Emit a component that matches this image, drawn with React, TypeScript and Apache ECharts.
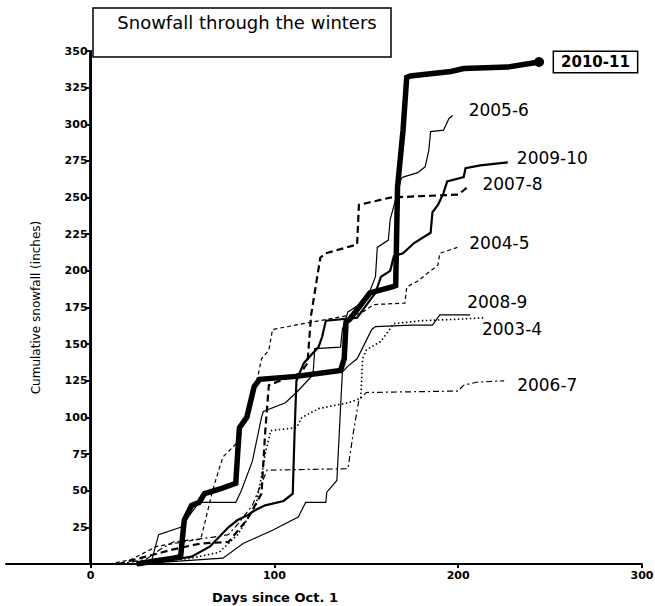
import React, { useEffect, useRef } from "react";
import * as echarts from "echarts";

const xTickValues = [0, 100, 200, 300];
const yTickStep = 25;
const xMin = -46;
const xMax = 300;
const yMin = 0;
const yMax = 350;
const yAxisAtX = 0;

const s2010_11: number[][] = [
  [25, 0], [35, 2], [45, 4], [49, 5], [50, 18], [51, 30], [55, 40], [59, 42], [62, 48], [70, 51],
  [79, 55], [80, 75], [81, 93], [85, 100], [89, 121], [92, 126], [112, 128], [136, 132], [138, 140],
  [139, 165], [141, 167], [152, 185], [164, 189], [166, 190], [167, 257], [170, 296], [172, 332],
  [174, 333], [196, 336], [203, 338], [227, 339], [244, 342.5],
];
const s2005_6: number[][] = [
  [20, 0], [33, 1], [37, 20], [49, 25], [59, 42], [79, 42], [82, 50], [88, 70], [93, 100], [94, 104],
  [106, 110], [112, 117], [118, 125], [121, 129], [122, 147], [136, 148], [137, 160], [140, 172],
  [150, 180], [155, 196], [156, 216], [162, 221], [163, 235], [169, 263], [170, 264], [178, 267],
  [182, 271], [184, 282], [185, 295], [192, 296], [195, 304], [197, 306],
];
const s2009_10: number[][] = [
  [25, 0], [40, 2], [55, 5], [65, 12], [75, 25], [80, 30], [85, 33], [90, 37], [95, 40], [105, 43],
  [110, 48], [111, 90], [112, 125], [116, 137], [121, 144], [124, 148], [126, 155], [128, 166],
  [145, 168], [155, 185], [158, 196], [163, 200], [165, 210], [170, 212], [176, 219], [185, 226],
  [186, 240], [189, 245], [192, 253], [194, 261], [203, 264], [204, 270], [212, 272], [227, 274],
];
const s2007_8: number[][] = [
  [15, 0], [30, 5], [45, 10], [60, 14], [75, 15], [85, 30], [93, 48], [95, 90], [97, 122], [105, 126],
  [114, 130], [118, 137], [120, 170], [125, 209], [128, 212], [145, 218], [146, 245], [163, 250],
  [180, 251], [200, 252], [205, 257],
];
const s2004_5: number[][] = [
  [10, 0], [22, 3], [36, 12], [50, 15], [60, 17], [66, 48], [68, 57], [72, 73], [80, 83], [87, 112],
  [91, 128], [93, 140], [97, 146], [99, 160], [120, 165], [147, 171], [154, 177], [171, 178],
  [172, 189], [178, 193], [185, 200], [189, 204], [190, 212], [199.5, 216],
];
const s2008_9: number[][] = [
  [20, 0], [35, 1], [48, 2], [60, 3], [72, 4], [83, 14], [99, 23], [113, 32], [117, 42], [128, 42],
  [128.5, 49], [134, 57], [137, 131], [140, 135], [145, 140], [153, 160], [155, 162], [175, 163],
  [186, 163], [190, 170], [206.5, 170],
];
const s2003_4: number[][] = [
  [25, 0], [40, 2], [55, 4], [70, 8], [80, 20], [90, 40], [93, 60], [95, 75], [98, 91], [112, 93],
  [115, 100], [124, 106], [140, 110], [147, 113], [148, 140], [150, 146], [158, 152], [165, 164],
  [180, 166], [200, 167], [214, 168],
];
const s2006_7: number[][] = [
  [15, 0], [30, 3], [38, 10], [45, 15], [65, 18], [75, 20], [80, 27], [88, 40], [93, 55], [96, 64],
  [140, 65], [143, 90], [146, 112], [150, 117], [200, 118], [203, 122], [210, 124], [225, 125],
];

const FONT = "DejaVu Sans";
const GRID_LEFT = 6;
const GRID_RIGHT = 13;
const W = 655;

export default function App() {
  const ref = useRef<HTMLDivElement>(null);
  useEffect(() => {
    if (!ref.current) return;
    const chart = echarts.init(ref.current, null, { renderer: "svg" });
    const plotW = W - GRID_LEFT - GRID_RIGHT;
    const yOffset = -((yAxisAtX - xMin) / (xMax - xMin)) * plotW;
    const labelBase = {
      show: true,
      fontFamily: FONT,
      fontSize: 17,
      color: "#000",
      distance: 5,
    };
    const mk = (
      name: string,
      data: number[][],
      width: number,
      type: any,
      offset: number[],
      extraLabel: any = {}
    ) => ({
      name,
      type: "line",
      data,
      symbol: "none",
      z: width > 4 ? 5 : 3,
      lineStyle: { color: "#000", width, type, cap: "butt", join: "miter" },
      endLabel: { ...labelBase, formatter: name, offset, ...extraLabel },
    });
    chart.setOption({
      animation: false,
      backgroundColor: "#fff",
      grid: {
        left: GRID_LEFT,
        right: GRID_RIGHT,
        top: 51,
        bottom: 42,
        containLabel: false,
        outerBoundsMode: "none",
      },
      xAxis: {
        type: "value",
        min: xMin,
        max: xMax,
        splitLine: { show: false },
        axisLine: { onZero: false, lineStyle: { color: "#000", width: 2 } },
        axisTick: {
          show: true,
          customValues: xTickValues,
          length: 4,
          lineStyle: { color: "#000", width: 2 },
        },
        axisLabel: {
          customValues: xTickValues,
          fontFamily: FONT,
          fontWeight: "bold",
          fontSize: 11,
          color: "#000",
          margin: 6,
        },
      },
      yAxis: {
        type: "value",
        min: yMin,
        max: yMax,
        interval: yTickStep,
        offset: yOffset,
        splitLine: { show: false },
        axisLine: { show: true, onZero: false, lineStyle: { color: "#000", width: 2 } },
        axisTick: { show: true, length: 5, lineStyle: { color: "#000", width: 2 } },
        axisLabel: {
          showMinLabel: false,
          fontFamily: FONT,
          fontWeight: "bold",
          fontSize: 11,
          color: "#000",
          margin: 3,
        },
        name: "Cumulative snowfall (inches)",
        nameLocation: "middle",
        nameGap: 49,
        nameTextStyle: { fontFamily: FONT, fontSize: 12, color: "#000" },
      },
      graphic: [
        {
          type: "rect",
          shape: { x: 93, y: 8, width: 298, height: 49 },
          style: { fill: "#fff", stroke: "#000", lineWidth: 1.5 },
          z: 10,
        },
        {
          type: "text",
          x: 247,
          y: 22,
          style: {
            text: "Snowfall through the winters",
            fontFamily: FONT,
            fontSize: 18,
            fill: "#000",
            align: "center",
            verticalAlign: "middle",
          },
          z: 11,
        },
        {
          type: "text",
          x: 275,
          y: 597,
          style: {
            text: "Days since Oct. 1",
            fontFamily: FONT,
            fontSize: 13,
            fontWeight: "bold",
            fill: "#000",
            align: "center",
            verticalAlign: "middle",
          },
        },
      ],
      series: [
        {
          name: "y axis line",
          type: "line",
          data: [
            [yAxisAtX, yMin],
            [yAxisAtX, yMax],
          ],
          symbol: "none",
          silent: true,
          clip: false,
          z: 2,
          lineStyle: { color: "#000", width: 2.5, type: "solid" },
        },
        mk("2006-7", s2006_7, 1.2, [6, 3, 2, 3], [8, 4]),
        mk("2003-4", s2003_4, 1.6, [1.5, 2.5], [-7, 11]),
        mk("2008-9", s2008_9, 1.2, "solid", [-8, -13]),
        mk("2004-5", s2004_5, 1.2, [4, 3], [7, -4]),
        mk("2007-8", s2007_8, 2.2, [7, 4], [10, -3]),
        mk("2009-10", s2009_10, 2.2, "solid", [4, -4]),
        mk("2005-6", s2005_6, 1.2, "solid", [11, -5]),
        mk("2010-11", s2010_11, 5.5, "solid", [10, 0], {
          fontSize: 15,
          fontWeight: "bold",
          borderColor: "#000",
          borderWidth: 1.5,
          padding: [3, 7, 2, 7],
          backgroundColor: "#fff",
        }),
        {
          name: "2010-11 end",
          type: "scatter",
          data: [s2010_11[s2010_11.length - 1]],
          symbol: "circle",
          symbolSize: 10,
          itemStyle: { color: "#000", opacity: 1 },
          z: 6,
        },
      ],
    });
    // Draw the y-axis line through the library's own coordinate conversion.
    const p0 = chart.convertToPixel({ gridIndex: 0 }, [yAxisAtX, yMin]) as number[];
    const p1 = chart.convertToPixel({ gridIndex: 0 }, [yAxisAtX, yMax]) as number[];
    if (p0 && p1) {
      chart.setOption({
        graphic: [
          {
            id: "yAxisLine",
            type: "line",
            shape: { x1: p0[0], y1: p0[1], x2: p1[0], y2: p1[1] },
            style: { stroke: "#000", lineWidth: 2.5 },
            z: 20,
          },
        ],
      });
    }
    return () => chart.dispose();
  }, []);
  return (
    <div
      ref={ref}
      style={{ position: "fixed", left: 0, top: 0, width: 655, height: 606, background: "#fff" }}
    />
  );
}
